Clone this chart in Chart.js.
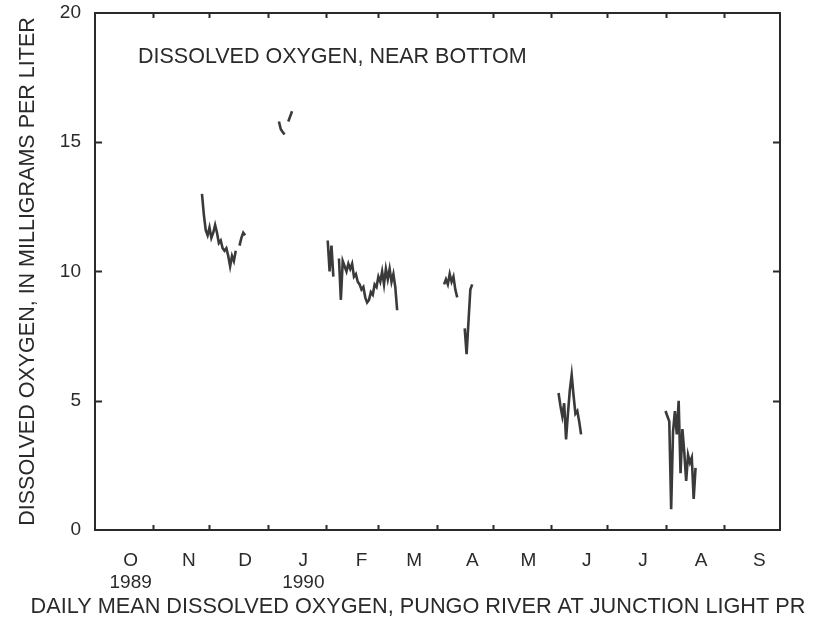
<!DOCTYPE html>
<html>
<head>
<meta charset="utf-8">
<script src="https://cdn.jsdelivr.net/npm/chart.js@4"></script>
<style>
  html, body { margin: 0; padding: 0; background: #fff; }
</style>
</head>
<body>
<canvas id="chart" width="824" height="620"></canvas>
<script>
// days counted from 1 October 1989 (water year 1990)
const monthLabels = ["O", "N", "D", "J", "F", "M", "A", "M", "J", "J", "A", "S"];
const yearLabels = { 0: "1989", 3: "1990" };
const monthStartDays = [0, 31, 61, 92, 123, 151, 182, 212, 243, 273, 304, 335, 365];
const yTicks = [0, 5, 10, 15, 20];

// daily means, null = missing record
const days = [
    57, 58, 59, 60, 61, 62, 63, 64, 65, 66, 67, 68, 69, 70, 71, 72, 73, 74, 75, 76, 77, 78, 79, 80, 81,
    98, 99, 100, 101, 102, 103, 104, 105, 106,
    124, 125, 126, 127, 128,
    130, 131, 132, 133, 134, 135, 136, 137, 138, 139, 140, 141, 142, 143, 144, 145, 146, 147, 148, 149,
    150, 151, 152, 153, 154, 155, 156, 157, 158, 159, 160, 161, 162,
    186, 187, 188, 189, 190, 191, 192, 193, 194,
    197, 198, 200, 201, 202,
    247, 248, 249, 250, 251, 252, 253, 254, 255, 256, 257, 258, 259, 260,
    304, 305, 306, 307, 308, 309, 310, 311, 312, 313, 314, 315, 316, 317, 318, 319, 320
];
const oxygen = [
    13.0, 12.2, 11.6, 11.4, 11.7, 11.3, 11.5, 11.8, 11.5, 11.1, 11.2, 10.9, 10.8, 10.9, 10.6, 10.2, 10.6, 10.4, 10.8, null, 11.0, 11.3, 11.5, 11.4, null,
    15.8, 15.5, 15.4, 15.3, null, 15.8, 16.0, 16.2, null,
    11.2, 10.0, 11.0, 9.8, null,
    10.5, 8.9, 10.4, 10.2, 10.0, 10.3, 10.1, 10.3, 9.8, 9.9, 9.6, 9.5, 9.3, 9.4, 9.0, 8.8, 8.9, 9.2, 9.1, 9.5,
    9.4, 9.8, 9.6, 10.0, 9.5, 10.1, 9.7, 10.1, 9.6, 9.9, 9.4, 8.5, null,
    9.5, 9.7, 9.5, 9.9, 9.6, 9.8, 9.3, 9.0, null,
    7.8, 6.8, 9.3, 9.5, null,
    5.3, 4.8, 4.4, 4.9, 3.5, 4.5, 5.4, 6.0, 5.2, 4.5, 4.6, 4.2, 3.7, null,
    4.6, 4.4, 4.2, 0.8, 3.8, 4.6, 3.7, 5.0, 2.2, 3.9, 3.0, 1.9, 2.9, 2.6, 2.8, 1.2, 2.4
];

const FONT = "'Liberation Sans', Arial, Helvetica, sans-serif";
const INK = "#2a2a2a";
const LABEL_SHIFT = 19; // month letters sit a bit right of mid-month in the original

const frameTicks = {
    id: "frameTicks",
    afterDatasetsDraw(chart) {
        const { ctx, chartArea: a, scales: { x, y } } = chart;
        ctx.save();
        ctx.strokeStyle = INK;
        ctx.lineWidth = 2;
        ctx.beginPath();
        monthStartDays.slice(1, -1).forEach(d => {
            const px = Math.round(x.getPixelForValue(d)) + 0.5;
            ctx.moveTo(px, a.bottom); ctx.lineTo(px, a.bottom - 5);
            ctx.moveTo(px, a.top); ctx.lineTo(px, a.top + 5);
        });
        yTicks.slice(1, -1).forEach(v => {
            const py = Math.round(y.getPixelForValue(v)) + 0.5;
            ctx.moveTo(a.left, py); ctx.lineTo(a.left + 7, py);
            ctx.moveTo(a.right, py); ctx.lineTo(a.right - 7, py);
        });
        ctx.stroke();

        ctx.fillStyle = INK;
        ctx.font = "21.5px " + FONT;
        ctx.textBaseline = "middle";
        ctx.fillText("DISSOLVED OXYGEN, NEAR BOTTOM", a.left + 43, a.top + 44);
        ctx.restore();
    }
};

const ctx = document.getElementById("chart").getContext("2d");
new Chart(ctx, {
    type: "line",
    data: {
        datasets: [{
            data: days.map((d, i) => ({ x: d, y: oxygen[i] })),
            borderColor: "#3a3a3a",
            borderWidth: 2.6,
            pointRadius: 0,
            spanGaps: false,
            tension: 0
        }]
    },
    options: {
        responsive: false,
        animation: false,
        layout: { padding: { left: 12, right: 0, top: 0, bottom: 0 } },
        plugins: {
            legend: { display: false },
            tooltip: { enabled: false },
            title: {
                display: true,
                position: "bottom",
                text: "DAILY MEAN DISSOLVED OXYGEN, PUNGO RIVER AT JUNCTION LIGHT PR",
                color: INK,
                font: { family: FONT, size: 21.7, weight: "normal" },
                padding: { top: 0, bottom: 0 }
            }
        },
        scales: {
            x: {
                type: "linear",
                position: "bottom",
                min: 0, max: 365,
                afterBuildTicks: s => {
                    s.ticks = monthLabels.map((m, i) => ({ value: monthStartDays[i] + LABEL_SHIFT }));
                },
                afterFit: s => { s.height = 620 - 530 - 26; s.paddingLeft = 0; s.paddingRight = 0; },
                ticks: {
                    autoSkip: false,
                    maxRotation: 0,
                    padding: 19,
                    color: INK,
                    font: { family: FONT, size: 19 },
                    callback: (v, i) => yearLabels[i] ? [monthLabels[i], yearLabels[i]] : monthLabels[i]
                },
                grid: { drawOnChartArea: false, drawTicks: false },
                border: { display: true, color: INK, width: 2 }
            },
            xTop: {
                type: "linear",
                position: "top",
                min: 0, max: 365,
                afterFit: s => { s.height = 13; },
                ticks: { display: false },
                grid: { drawOnChartArea: false, drawTicks: false },
                border: { display: true, color: INK, width: 2 }
            },
            y: {
                min: 0, max: 20,
                afterBuildTicks: s => { s.ticks = yTicks.map(v => ({ value: v })); },
                afterFit: s => { s.width = 83; s.paddingTop = 0; s.paddingBottom = 0; },
                ticks: {
                    padding: 14,
                    color: INK,
                    font: { family: FONT, size: 19 }
                },
                grid: { drawOnChartArea: false, drawTicks: false },
                border: { display: true, color: INK, width: 2 },
                title: {
                    display: true,
                    text: "DISSOLVED OXYGEN, IN MILLIGRAMS PER LITER",
                    color: INK,
                    font: { family: FONT, size: 21.5, weight: "normal" },
                    padding: { top: 3, bottom: 0 }
                }
            },
            yRight: {
                position: "right",
                min: 0, max: 20,
                afterFit: s => { s.width = 44; },
                ticks: { display: false },
                grid: { drawOnChartArea: false, drawTicks: false },
                border: { display: true, color: INK, width: 2 }
            }
        }
    },
    plugins: [frameTicks]
});
</script>
</body>
</html>
